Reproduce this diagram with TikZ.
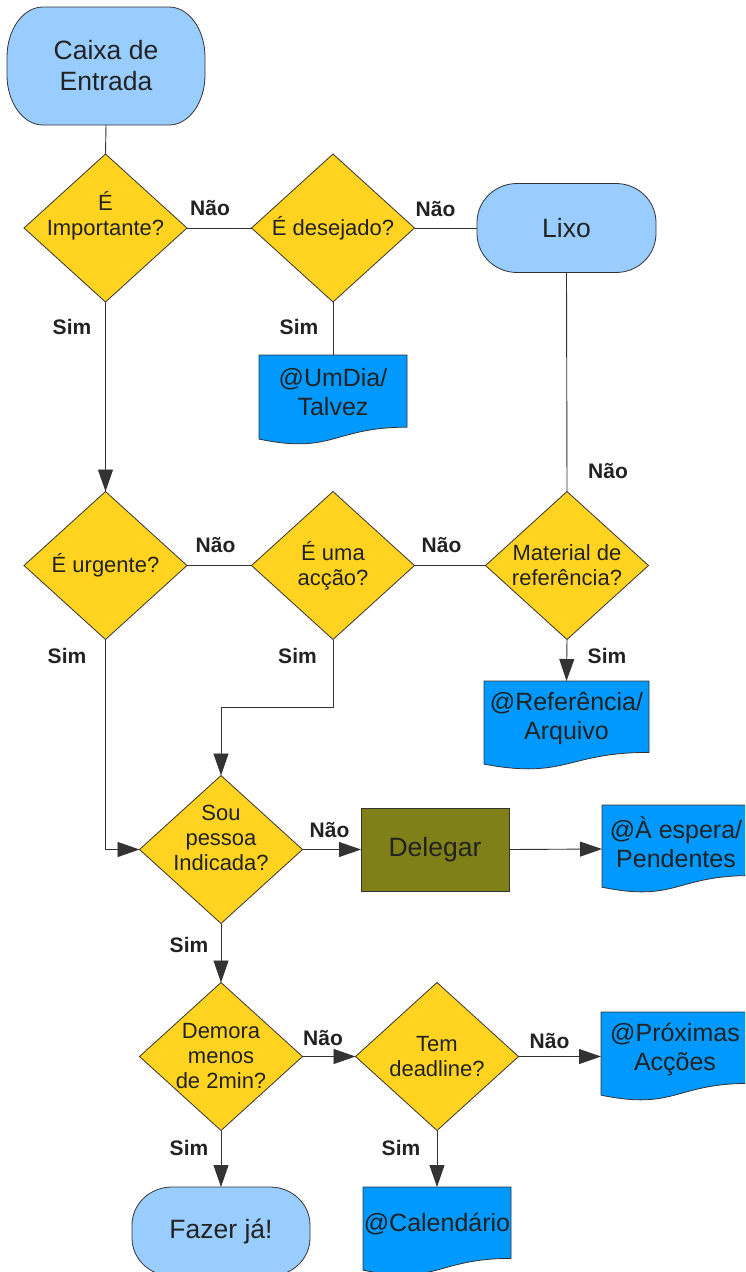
\documentclass[tikz,border=0pt]{standalone}
\usepackage{fontspec}
\setmainfont{Liberation Sans}
\usetikzlibrary{shapes.geometric,arrows.meta,calc,backgrounds}
\definecolor{termblue}{HTML}{99CCFF}
\definecolor{diayel}{HTML}{FFD320}
\definecolor{docblue}{HTML}{0099FF}
\definecolor{olivebox}{HTML}{808019}
\definecolor{ink}{HTML}{222222}
\definecolor{edgecol}{HTML}{333333}
\newcommand\termshape[3]{%
  \filldraw[shapeline, fill=termblue]
    ([xshift=#2]#1.north west) -- ([xshift=-#2]#1.north east)
    arc[start angle=90,end angle=0,x radius=#2,y radius=#3]
    -- ([yshift=#3]#1.south east)
    arc[start angle=0,end angle=-90,x radius=#2,y radius=#3]
    -- ([xshift=#2]#1.south west)
    arc[start angle=270,end angle=180,x radius=#2,y radius=#3]
    -- ([yshift=-#3]#1.north west)
    arc[start angle=180,end angle=90,x radius=#2,y radius=#3] -- cycle;}
\newcommand\docshape[1]{%
  \filldraw[shapeline, fill=docblue]
    (#1.north west) -- (#1.north east)
    -- ($(#1.north east)!0.802!(#1.south east)$)
    .. controls ($(#1.north)!0.802!(#1.south)$) and ($(#1.north)!1.107!(#1.south)$)
    .. ($(#1.north west)!0.934!(#1.south west)$) -- cycle;}
\begin{document}
\begin{tikzpicture}[x=1pt,y=-1pt,
  plainbox/.style={inner sep=0pt, outer sep=0pt},
  shapeline/.style={draw=edgecol, line width=0.8pt},
  termnode/.style={plainbox, rectangle, font=\fontsize{26.5}{31}\selectfont, text=ink, align=center},
  dia/.style={plainbox, diamond, shapeline, fill=diayel, minimum width=163pt, minimum height=148pt},
  diatext/.style={font=\fontsize{22}{25}\selectfont, text=ink, align=center, inner sep=0pt},
  docnode/.style={plainbox, rectangle, minimum width=148pt, minimum height=89pt},
  doctext/.style={font=\fontsize{25}{29}\selectfont, text=ink, align=center, inner sep=0pt, yshift=7.5pt},
  lbl/.style={font=\fontsize{21}{25}\selectfont\bfseries, text=ink, inner sep=0pt},
  conn/.style={draw=edgecol, line width=0.9pt},
  arr/.style={conn, -{Triangle[length=22pt,width=15pt]}},
]
\useasboundingbox (0,0) rectangle (745,1272);
\clip (0,0) rectangle (745,1272);

% terminals
\node[termnode, minimum width=198pt, minimum height=118pt] (caixa) at (106,66) {Caixa de\\Entrada};
\node[termnode, minimum width=179pt, minimum height=89pt] (lixo) at (566.5,228) {Lixo};
\node[termnode, minimum width=178pt, minimum height=89pt] (fazer) at (221,1231.5) {Fazer já!};

% decisions
\node[dia, label={[diatext,yshift=12pt]center:{É\\Importante?}}] (d1) at (105.5,228) {};
\node[dia, label={[diatext]center:{É desejado?}}] (d2) at (333,228) {};
\node[dia, label={[diatext]center:{É urgente?}}] (d3) at (105.5,565.5) {};
\node[dia, label={[diatext]center:{É uma\\acção?}}] (d4) at (333,565.5) {};
\node[dia, label={[diatext]center:{Material de\\referência?}}] (d5) at (567,565.5) {};
\node[dia, label={[diatext,yshift=12pt]center:{Sou\\pessoa\\Indicada?}}] (sou) at (221,849.5) {};
\node[dia, label={[diatext]center:{Demora\\menos\\de 2min?}}] (demora) at (221,1056.5) {};
\node[dia, label={[diatext]center:{Tem\\deadline?}}] (tem) at (437,1056.5) {};

% process
\node[plainbox, rectangle, shapeline, fill=olivebox, minimum width=148pt, minimum height=83pt,
      font=\fontsize{26.5}{31}\selectfont, text=ink] (delegar) at (435,849.5) {Delegar};

% documents
\node[docnode, minimum height=90pt, label={[doctext]center:{@UmDia/\\Talvez}}] (umdia) at (333,400) {};
\node[docnode, minimum width=165pt, label={[doctext]center:{@Referência/\\Arquivo}}] (ref) at (566.5,725.5) {};
\node[docnode, minimum height=88pt, label={[doctext,yshift=-0.5pt]center:{@À espera/\\Pendentes}}] (espera) at (676,849) {};
\node[docnode, label={[doctext]center:{@Próximas\\Acções}}] (prox) at (675,1056.5) {};
\node[docnode, label={[doctext]center:{@Calendário}}] (cal) at (437,1231.5) {};

\begin{pgfonlayer}{background}
  \clip (0,0) rectangle (745,1272);
  \termshape{caixa}{36pt}{50pt}
  \termshape{lixo}{40pt}{39pt}
  \termshape{fazer}{40pt}{38pt}
  \docshape{umdia}
  \docshape{ref}
  \docshape{espera}
  \docshape{prox}
  \docshape{cal}
\end{pgfonlayer}

% connectors
\draw[conn] (caixa.south) -- (d1.north);
\draw[conn] (d1.east) -- (d2.west);
\draw[conn] (d2.east) -- (lixo.west);
\draw[conn] (d2.south) -- (umdia.north);
\draw[arr] (d1.south) -- (d3.north);
\draw[conn] (lixo.south) -- (d5.north);
\draw[conn] (d3.east) -- (d4.west);
\draw[conn] (d4.east) -- (d5.west);
\draw[arr] (d5.south) -- (ref.north);
\draw[arr] (d3.south) |- (sou.west);
\draw[arr] (d4.south) -- ++(0,68) -| (sou.north);
\draw[arr] (sou.east) -- (delegar.west);
\draw[arr] (delegar.east) -- (espera.west);
\draw[arr] (sou.south) -- (demora.north);
\draw[arr] (demora.east) -- (tem.west);
\draw[arr] (tem.east) -- (prox.west);
\draw[arr] (demora.south) -- (fazer.north);
\draw[arr] (tem.south) -- (cal.north);

% labels
\node[lbl] (l1) at (210,208) {Não};
\node[lbl] (l2) at (435.5,209) {Não};
\node[lbl] (l3) at (72,327) {Sim};
\node[lbl] (l4) at (299,327) {Sim};
\node[lbl] (l5) at (608,471) {Não};
\node[lbl] (l6) at (215.5,545) {Não};
\node[lbl] (l7) at (441.5,545) {Não};
\node[lbl] (l8) at (67,656) {Sim};
\node[lbl] (l9) at (297.5,656) {Sim};
\node[lbl] (l10) at (607,656) {Sim};
\node[lbl] (l11) at (329.5,830) {Não};
\node[lbl] (l12) at (189,945) {Sim};
\node[lbl] (l13) at (323,1038) {Não};
\node[lbl] (l14) at (189,1148) {Sim};
\node[lbl] (l15) at (549.5,1041) {Não};
\node[lbl] (l16) at (401,1148) {Sim};
\end{tikzpicture}
\end{document}
